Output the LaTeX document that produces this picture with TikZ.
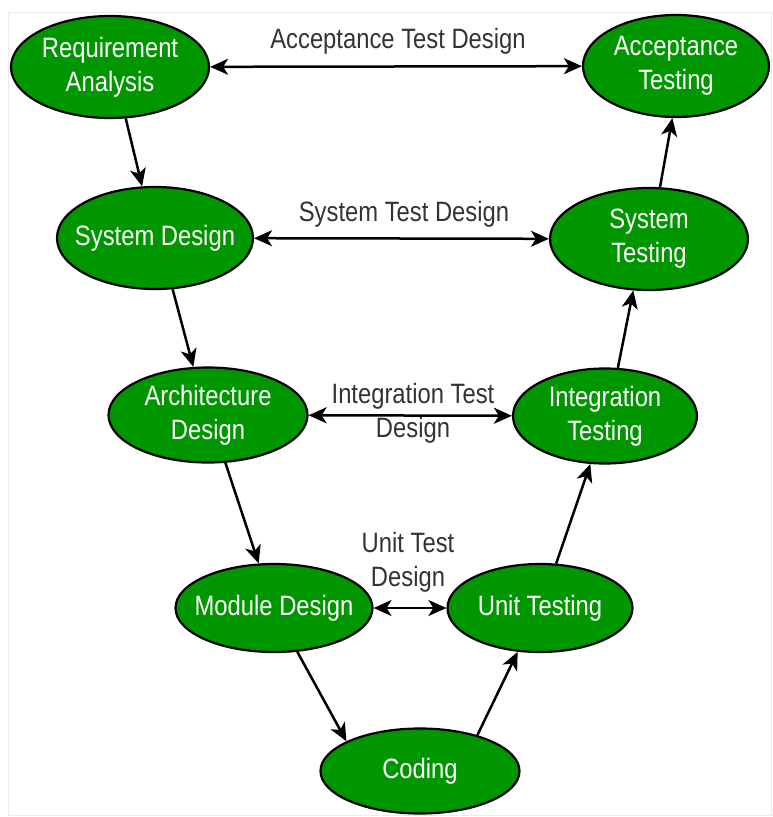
\documentclass[tikz,border=0pt]{standalone}
\usepackage{fontspec}
\setmainfont{Liberation Sans}[FakeStretch=0.85]
\usetikzlibrary{arrows.meta,shapes.geometric}
\definecolor{vgreen}{RGB}{0,150,0}
\definecolor{lblgray}{RGB}{51,51,51}
\begin{document}
\begin{tikzpicture}[x=1pt, y=-1pt,
		phase/.style={ellipse, draw=black, line width=2.2pt, fill=vgreen, text=white,
			align=center, inner xsep=-30pt, inner ysep=-20pt, font=\fontsize{28}{34}\selectfont},
		lbl/.style={text=lblgray, align=center, inner sep=0pt, font=\fontsize{28}{34}\selectfont},
		flow/.style={line width=2.5pt, -{Stealth[length=18pt, width=16pt, inset=5pt]}},
		twoway/.style={line width=2.5pt, {Stealth[length=18pt, width=16pt, inset=5pt]}-{Stealth[length=18pt, width=16pt, inset=5pt]}}]

		\useasboundingbox (0,0) rectangle (772,817);
		\draw [black!8, line width=1pt] (8,12) rectangle (771,815);

		% left leg
		\node [phase, minimum width=198pt, minimum height=102pt] (req)  at (110,67)  {Requirement\\Analysis};
		\node [phase, minimum width=196pt, minimum height=102pt] (sysd) at (155,238) {System Design};
		\node [phase, minimum width=199pt, minimum height=95pt]  (arch) at (208,415) {Architecture\\Design};
		\node [phase, minimum width=197pt, minimum height=88pt]  (mod)  at (274,608) {Module Design};

		% bottom
		\node [phase, minimum width=199pt, minimum height=85pt]  (cod)  at (420,771) {Coding};

		% right leg
		\node [phase, minimum width=185pt, minimum height=88pt]  (unit)  at (540,608) {Unit Testing};
		\node [phase, minimum width=184pt, minimum height=95pt]  (integ) at (605,416) {Integration\\Testing};
		\node [phase, minimum width=198pt, minimum height=102pt] (syst)  at (649,239) {System\\Testing};
		\node [phase, minimum width=186pt, minimum height=102pt] (acc)   at (676,66)  {Acceptance\\Testing};

		% V flow
		\draw [flow] (req.-73.6)  -- (sysd.104);
		\draw [flow] (sysd.-71.9) -- (arch.107.4);
		\draw [flow] (arch.-70.5) -- (mod.109.6);
		\draw [flow] (mod.-62.4)  -- (cod.158.8);
		\draw [flow] (cod.32.3)   -- (unit.-117);
		\draw [flow] (unit.70.8)  -- (integ.-107.7);
		\draw [flow] (integ.75.7) -- (syst.-107.4);
		\draw [flow] (syst.78.9)  -- (acc.-94.4);

		% test design links
		\draw [twoway] (req)  -- (acc);
		\draw [twoway] (sysd) -- (syst);
		\draw [twoway] (arch) -- (integ);
		\draw [twoway] (mod)  -- (unit);

		\node [lbl] (atd) at (398,41)  {Acceptance Test Design};
		\node [lbl] (std) at (404,214) {System Test Design};
		\node [lbl] (itd) at (413,413) {Integration Test\\Design};
		\node [lbl] (utd) at (408,562) {Unit Test\\Design};

	\end{tikzpicture}
\end{document}
